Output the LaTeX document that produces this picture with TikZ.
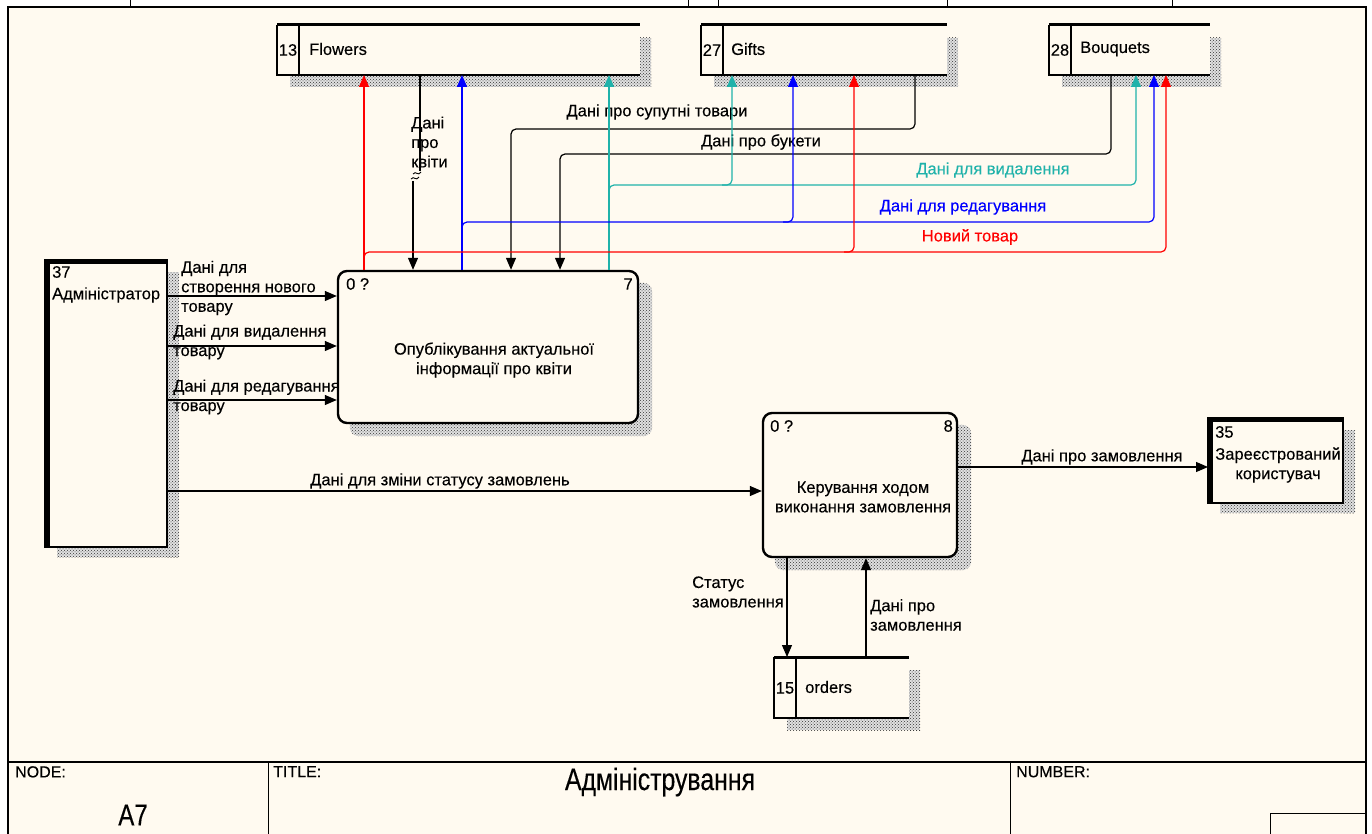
\documentclass[tikz,border=0pt]{standalone}
\usepackage{fontspec}
\setmainfont{Liberation Sans}[FakeBold=0.25]
\newfontfamily\narrowfont[FakeStretch=0.8,FakeBold=0.3]{Liberation Sans}
\usetikzlibrary{arrows.meta,calc,patterns,positioning,backgrounds}
\definecolor{paper}{HTML}{FFFAF0}
\definecolor{delcol}{HTML}{20B2AA}
\definecolor{editcol}{HTML}{0000FF}
\definecolor{newcol}{HTML}{FF0000}

\begin{document}
\begin{tikzpicture}[x=1pt,y=-1pt,
    flow/.style={line width=1.2pt,rounded corners=5pt,-{Triangle[length=12pt,width=10pt]}},
    wire/.style={line width=1.2pt,rounded corners=5pt},
    hatch/.style={preaction={fill=black!12},pattern=crosshatch dots,pattern color=black!80},
    proc/.style={draw,line width=2.4pt,rounded corners=9pt,fill=paper,inner sep=0pt},
    holder/.style={inner sep=0pt,outer sep=0pt},
    txt/.style={inner sep=0pt,font=\fontsize{16.5}{19.5}\selectfont,align=left},
    framecap/.style={inner sep=0pt,font=\fontsize{16}{19}\selectfont}]
  \useasboundingbox (0,0) rectangle (1372,834);

  % frame
  \draw[line width=1.2pt] (8,834) -- (8,7) -- (1366,7) -- (1366,834);
  \foreach \x in {130,688,718,947,1172} \draw[line width=1pt] (\x,0) -- (\x,7);
  \draw[line width=1.2pt] (8,762) -- (1366,762);
  \draw[line width=1pt] (268,762) -- (268,834) (1010,762) -- (1010,834);
  \draw[line width=1pt] (1270,834) -- (1270,813) -- (1366,813);
  \node[framecap,anchor=north west] (nodecap) at (15,766) {NODE:};
  \node[framecap,anchor=north west] (titlecap) at (273,766) {TITLE:};
  \node[framecap,anchor=north west] (numcap) at (1016,766) {NUMBER:};
  \node[inner sep=0pt,font=\narrowfont\fontsize{30}{32}\selectfont] (nodenum) at (133,815) {A7};
  \node[inner sep=0pt,font=\narrowfont\fontsize{31}{33}\selectfont] (diagtitle) at (660,782) {Адміністрування};

  % data stores
  \node[holder,minimum width=363pt,minimum height=50pt] (flw) at (458.5,50) {};
  \node[holder,minimum width=246pt,minimum height=50pt] (gft) at (824,50) {};
  \node[holder,minimum width=161pt,minimum height=50pt] (bqt) at (1129.5,50) {};
  \node[holder,minimum width=135pt,minimum height=61pt] (ord) at (841.5,687.5) {};
  \foreach \s in {flw,gft,bqt,ord} {
    \draw[line width=3pt] (\s.north west) -- (\s.north east);
    \draw[line width=2pt] (\s.north west) -- (\s.south west) -- (\s.south east);
    \draw[line width=2pt] ($(\s.north west)+(22,0)$) -- ($(\s.south west)+(22,0)$);
  }
  \node[txt] (flwnum) at (288,50) {13};
  \node[txt,anchor=west] (flwname) at (309,49) {Flowers};
  \node[txt] (gftnum) at (712,50) {27};
  \node[txt,anchor=west] (gftname) at (731,49) {Gifts};
  \node[txt] (bqtnum) at (1060,50) {28};
  \node[txt,anchor=west] (bqtname) at (1080,49) {Bouquets};
  \node[txt] (ordnum) at (785,688) {15};
  \node[txt,anchor=west] (ordname) at (805,687) {orders};

  % external entities
  \node[holder,draw,line width=2pt,fill=paper,minimum width=122pt,minimum height=287pt] (admin) at (106,403.5) {};
  \fill (admin.south west) rectangle ($(admin.north west)+(5,0)$);
  \fill (admin.north west) rectangle ($(admin.north east)+(0,4)$);
  \node[txt,anchor=west] (admnum) at (52,272) {37};
  \node[txt,anchor=west] (admname) at (52,295) {Адміністратор};
  \node[holder,draw,line width=2pt,fill=paper,minimum width=135pt,minimum height=85pt] (user) at (1275.5,460.5) {};
  \fill (user.south west) rectangle ($(user.north west)+(5,0)$);
  \fill (user.north west) rectangle ($(user.north east)+(0,4)$);
  \node[txt,anchor=west] (usrnum) at (1215,432) {35};
  \node[txt,align=center] (usrname) at (1278,465) {Зареєстрований\\користувач};

  % activities
  \node[proc,minimum width=300pt,minimum height=152pt] (pub) at (488,347) {};
  \node[txt,anchor=west] (pubref) at (346,284) {0 ?};
  \node[txt,anchor=east] (pubnum) at (633,284) {7};
  \node[txt,align=center] (pubname) at (494,360) {Опублікування актуальної\\інформації про квіти};
  \node[proc,minimum width=194pt,minimum height=144pt] (ctl) at (860,485) {};
  \node[txt,anchor=west] (ctlref) at (770,426) {0 ?};
  \node[txt,anchor=east] (ctlnum) at (953,426) {8};
  \node[txt,align=center] (ctlname) at (863,497) {Керування ходом\\виконання замовлення};

  % shadows
  \begin{scope}[on background layer]
    \fill[white] (0,0) rectangle (1372,834);
    \fill[paper] (8,7) rectangle (1366,834);
    \foreach \s in {flw,gft,bqt,ord} {
      \fill[hatch] ($(\s.north east)+(0,13)$) rectangle ($(\s.south east)+(11,12)$);
      \fill[hatch] ($(\s.south west)+(13,0)$) rectangle ($(\s.south east)+(11,12)$);
    }
    \foreach \s in {admin,user} {
      \fill[hatch] ($(\s.north east)+(0,12)$) rectangle ($(\s.south east)+(12,10)$);
      \fill[hatch] ($(\s.south west)+(12,0)$) rectangle ($(\s.south east)+(12,10)$);
    }
    \foreach \s in {pub,ctl}
      \fill[hatch,rounded corners=9pt] ($(\s.north west)+(13,13)$) rectangle ($(\s.south east)+(13,12)$);
  \end{scope}

  % flows to the activity 7
  \draw[wire] (flw.south -| 420,0) -- (420,171);
  \draw[line width=0.9pt] (413,174) .. controls (416,170) and (418,177) .. (421,172);
  \draw[line width=0.9pt] (411,179) .. controls (414,175) and (416,182) .. (419,177);
  \draw[flow] (413,181) -- (pub.north -| 413,0);
  \node[txt,anchor=west,align=left] (flwlbl) at (411,142) {Дані\\про\\квіти};
  \draw[flow] (gft.south -| 915,0) -- (915,129) -- (511,129) -- (pub.north -| 511,0);
  \node[txt] (gftlbl) at (657,112) {Дані про супутні товари};
  \draw[flow] (bqt.south -| 1111,0) -- (1111,154) -- (560,154) -- (pub.north -| 560,0);
  \node[txt] (bqtlbl) at (761,142) {Дані про букети};

  % flows from the activity 7 to the stores
  \draw[flow,delcol] (pub.north -| 609,0) -- (flw.south -| 609,0);
  \draw[flow,delcol] (609,195) -- (609,185) -- (1136,185) -- (bqt.south -| 1136,0);
  \draw[flow,delcol] (722,185) -- (732,185) -- (gft.south -| 732,0);
  \node[txt,text=delcol] (dellbl) at (993,170) {Дані для видалення};
  \draw[flow,editcol] (pub.north -| 462,0) -- (flw.south -| 462,0);
  \draw[flow,editcol] (462,232) -- (462,222) -- (1154,222) -- (bqt.south -| 1154,0);
  \draw[flow,editcol] (783,222) -- (793,222) -- (gft.south -| 793,0);
  \node[txt,text=editcol] (editlbl) at (963,207) {Дані для редагування};
  \draw[flow,newcol] (pub.north -| 364,0) -- (flw.south -| 364,0);
  \draw[flow,newcol] (364,262) -- (364,252) -- (1166,252) -- (bqt.south -| 1166,0);
  \draw[flow,newcol] (844,252) -- (854,252) -- (gft.south -| 854,0);
  \node[txt,text=newcol] (newlbl) at (970,237) {Новий товар};

  % flows from the administrator
  \draw[flow] (admin.east |- 0,296) -- (pub.west |- 0,296);
  \node[txt,anchor=west] (crlbl) at (181,288) {Дані для\\створення нового\\товару};
  \draw[flow] (admin.east |- 0,346) -- (pub.west |- 0,346);
  \node[txt,anchor=west] (dllbl) at (173,342) {Дані для видалення\\товару};
  \draw[flow] (admin.east |- 0,400) -- (pub.west |- 0,400);
  \node[txt,anchor=west] (edlbl) at (173,397) {Дані для редагування\\товару};
  \draw[flow] (admin.east |- 0,491) -- (ctl.west |- 0,491);
  \node[txt] (stlbl) at (440,481) {Дані для зміни статусу замовлень};

  % flows of the activity 8
  \draw[flow] (ctl.east |- 0,467) -- (user.west |- 0,467);
  \node[txt] (usrlbl) at (1102,457) {Дані про замовлення};
  \draw[flow] (ctl.south -| 787,0) -- (ord.north -| 787,0);
  \node[txt,anchor=west] (ostlbl) at (692,592) {Статус\\замовлення};
  \draw[flow] (ord.north -| 866,0) -- (ctl.south -| 866,0);
  \node[txt,anchor=west] (odatlbl) at (870,615) {Дані про\\замовлення};
\end{tikzpicture}
\end{document}
